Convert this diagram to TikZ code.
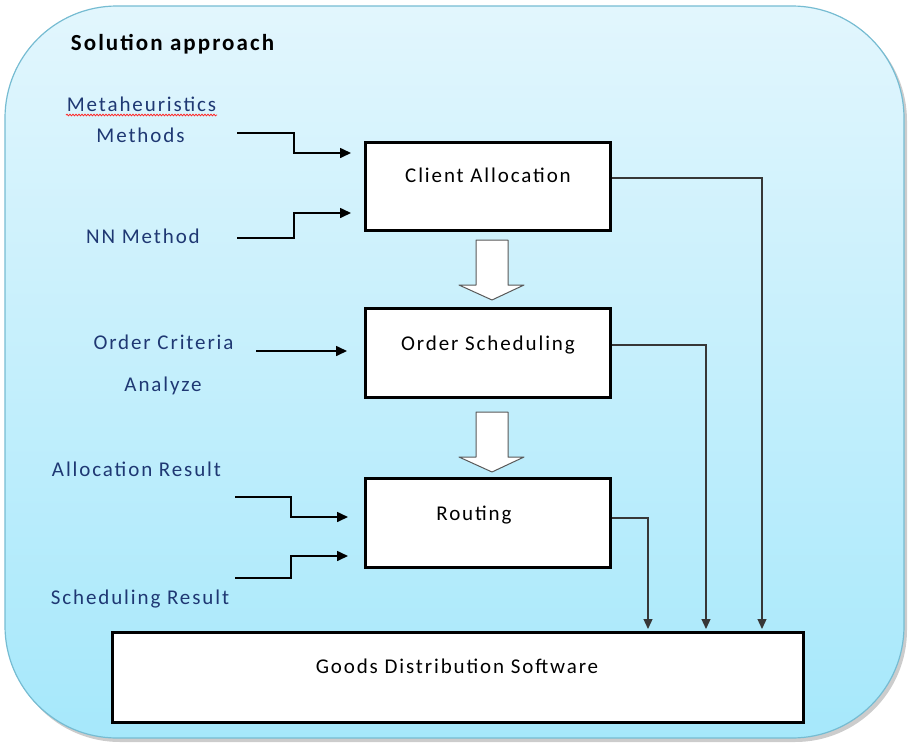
\documentclass[tikz,border=0pt]{standalone}
\usepackage{fontspec}
\setmainfont{Carlito}[LetterSpace=9]
\usetikzlibrary{arrows.meta,decorations.pathmorphing}

\definecolor{labelblue}{RGB}{31,56,115}
\definecolor{paneltop}{RGB}{226,246,253}
\definecolor{panelbottom}{RGB}{166,232,251}
\definecolor{panelrim}{RGB}{118,188,210}
\definecolor{wire}{RGB}{55,55,55}

\begin{document}
\begin{tikzpicture}[x=1pt,y=-1pt,
  procbox/.style={draw=black,line width=3pt,fill=white,inner sep=0pt},
  boxtext/.style={anchor=base,inner sep=0pt,font=\fontsize{21}{25}\selectfont,text=black},
  sidetext/.style={anchor=base,inner sep=0pt,font=\fontsize{21}{25}\selectfont,text=labelblue},
  hollow/.style={fill=white,draw=black!65,line width=1pt,line join=round},
  inarrow/.style={draw=black,line width=1.6pt,-{Triangle[length=11pt,width=10pt]}},
  outarrow/.style={draw=wire,line width=1.2pt,-{Triangle[length=10pt,width=9pt]}}]
\useasboundingbox (0,0) rectangle (908,745);

% panel with soft shadow
\fill[black!20,rounded corners=112pt] (8,9) rectangle (907,742);
\shade[top color=paneltop,bottom color=panelbottom,rounded corners=112pt]
  (5,6) rectangle (904,738);
\draw[panelrim,line width=1.2pt,rounded corners=112pt] (5,6) rectangle (904,738);

\node[anchor=base,inner sep=0pt,font=\fontsize{23}{27}\selectfont\bfseries] (title) at (172.5,50) {Solution approach};

% process boxes
\node[procbox,minimum width=245pt,minimum height=88pt] (ca) at (487.5,186) {};
\node[procbox,minimum width=245pt,minimum height=89pt] (os) at (487.5,352.5) {};
\node[procbox,minimum width=245pt,minimum height=89pt] (ro) at (487.5,522.5) {};
\node[procbox,minimum width=691pt,minimum height=90pt] (gd) at (457.5,677) {};

\node[boxtext] (tca) at (488,182) {Client Allocation};
\node[boxtext] (tos) at (488,350) {Order Scheduling};
\node[boxtext] (tro) at (474,520) {Routing};
\node[boxtext] (tgd) at (457,673) {Goods Distribution Software};

% hollow block arrows between stages
\draw[hollow] (476,240) -- (508,240) -- (508,285) -- (524,285) -- (492,300)
  -- (459,285) -- (476,285) -- cycle;
\draw[hollow] (476,412) -- (508,412) -- (508,457) -- (524,457) -- (492,472)
  -- (459,457) -- (476,457) -- cycle;

% input labels
\node[sidetext] (meta) at (141.5,111) {Metaheuristics};
\draw[red!85,line width=0.8pt,decorate,decoration={snake,amplitude=0.8pt,segment length=3pt}]
  (66,115) -- (217,115);
\node[sidetext] (meth) at (140.5,142) {Methods};
\node[sidetext] (nn) at (143,243) {NN Method};
\node[sidetext] (oc) at (163.5,349) {Order Criteria};
\node[sidetext] (an) at (163,391) {Analyze};
\node[sidetext] (ar) at (136.5,476) {Allocation Result};
\node[sidetext] (sr) at (140,604) {Scheduling Result};

% input connector ends
\coordinate (inA) at (237,133);   \coordinate (inAe) at (351,153);
\coordinate (inB) at (237,238);   \coordinate (inBe) at (351,213);
\coordinate (inC) at (256,351);   \coordinate (inCe) at (347,351);
\coordinate (inD) at (235,497);   \coordinate (inDe) at (348,517);
\coordinate (inE) at (235,578);   \coordinate (inEe) at (348,556);

\draw[inarrow] (inA) -- ++(57,0) |- (inAe);
\draw[inarrow] (inB) -- ++(57,0) |- (inBe);
\draw[inarrow] (inC) -- (inCe);
\draw[inarrow] (inD) -- ++(56,0) |- (inDe);
\draw[inarrow] (inE) -- ++(56,0) |- (inEe);

% outputs into the software box
\draw[outarrow] ([yshift=8pt]ca.east) -| ([xshift=304.5pt,yshift=1.5pt]gd.north);
\draw[outarrow] ([yshift=7.5pt]os.east) -| ([xshift=248.5pt,yshift=1.5pt]gd.north);
\draw[outarrow] ([yshift=4.5pt]ro.east) -| ([xshift=190.5pt,yshift=1.5pt]gd.north);
\end{tikzpicture}
\end{document}
